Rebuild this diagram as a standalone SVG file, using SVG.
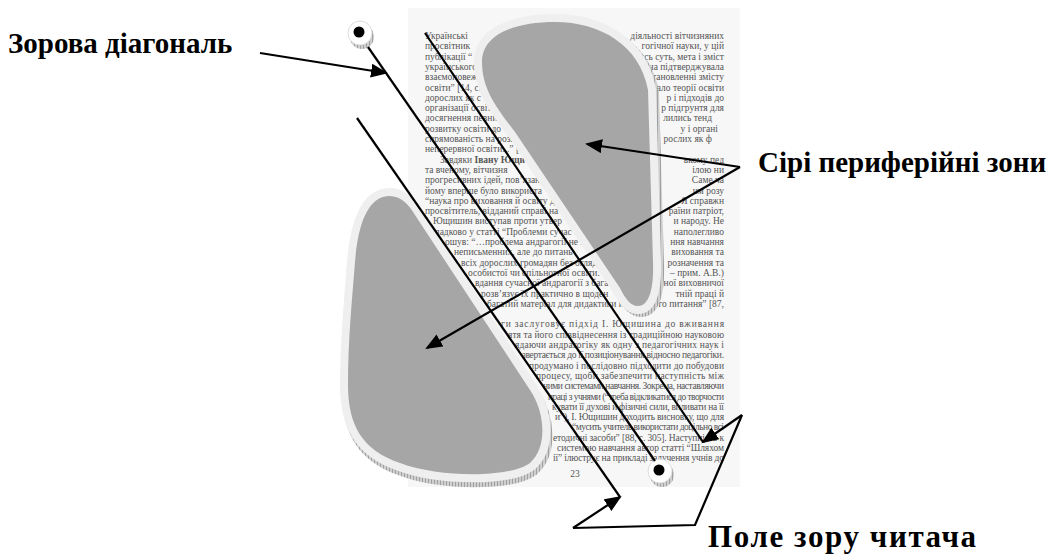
<svg xmlns="http://www.w3.org/2000/svg" width="1054" height="557" viewBox="0 0 1054 557">
<style>
.t{font-family:"Liberation Serif","Times New Roman",serif;font-size:9.5px;fill:#555}
.r{text-anchor:end}
.lbl{font-family:"Liberation Serif","Times New Roman",serif;font-size:29px;font-weight:bold;fill:#000}
.ln{stroke:#000;stroke-width:2.2;fill:none}
.blob{fill:#a6a6a6;stroke:#efefef;stroke-width:16;paint-order:stroke;stroke-linejoin:round}
.shadow{fill:#c9c9c9;stroke:url(#hatch);stroke-width:16;stroke-linejoin:round}
</style>
<defs>
<pattern id="hatch" width="3" height="3" patternUnits="userSpaceOnUse"><rect width="3" height="3" fill="#cfcfcf"/><path d="M0.5,0V3" stroke="#8c8c8c" stroke-width="0.7"/></pattern>
<marker id="ah" markerWidth="18" markerHeight="14" refX="15" refY="7" orient="auto" markerUnits="userSpaceOnUse"><path d="M0,0 L17,7 L0,14 Z" fill="#000"/></marker>
<path id="upper" d="M482,62 C482,34 515,22 555,22 C600,22 640,45 648,90 L653,262 C654,292 648,306 638,306 C630,306 625,298 620,288 L515,132 C495,106 482,88 482,62 Z"/>
<path id="lower" d="M383,197 C398,193 408,203 415,215 L530,390 C545,412 548,447 530,463 C510,478 440,478 400,463 C362,450 348,425 348,385 C348,340 352,300 355,262 C358,225 367,202 383,197 Z"/>
</defs>
<rect width="1054" height="557" fill="#fff"/>
<g id="page">
<rect x="408" y="8" width="332" height="479" fill="#f7f7f7"/>
<g id="page-text">
<text class="t" x="425" y="39">Українські</text><text class="t r" x="724" y="39">діяльності вітчизняних</text>
<text class="t" x="425" y="49.3">просвітник</text><text class="t r" x="724" y="49.3">гогічної науки, у цій</text>
<text class="t" x="425" y="59.6">публікації “</text><text class="t r" x="724" y="59.6">лись суть, мета і зміст</text>
<text class="t" x="425" y="69.9">українського</text><text class="t r" x="724" y="69.9">она підтверджувала</text>
<text class="t" x="425" y="80.2">взаємоповежн</text><text class="t r" x="724" y="80.2">становленні змісту</text>
<text class="t" x="425" y="90.5">освіти” [14, с.</text><text class="t r" x="724" y="90.5">вало теорії освіти</text>
<text class="t" x="425" y="100.8">дорослих як с</text><text class="t r" x="724" y="100.8">р і підходів до</text>
<text class="t" x="425" y="111.1">організації освіти</text><text class="t r" x="724" y="111.1">р підгрунтя для</text>
<text class="t" x="425" y="121.4">досягнення певних</text><text class="t r" x="712" y="121.4">лились тенд</text>
<text class="t" x="425" y="131.7">розвитку освіти до</text><text class="t r" x="718" y="131.7">у і органі</text>
<text class="t" x="425" y="142">спрямованість на розв</text><text class="t r" x="712" y="142">рослих як ф</text>
<text class="t" x="425" y="152.3">неперервної освіти...” [1</text>
<text class="t" x="440" y="162.6">Завдяки <tspan font-weight="bold">Івану Ющи</tspan></text><text class="t r" x="724" y="162.6">ькому пед</text>
<text class="t" x="425" y="172.9">та вченому, вітчизня</text><text class="t r" x="724" y="172.9">ілою ни</text>
<text class="t" x="425" y="183.2">прогресивних ідей, пов’язан</text><text class="t r" x="724" y="183.2">Саме ча</text>
<text class="t" x="425" y="193.5">йому вперше було використа</text><text class="t r" x="724" y="193.5">им розу</text>
<text class="t" x="425" y="203.8">“наука про виховання й освіту д</text><text class="t r" x="724" y="203.8">Я справжн</text>
<text class="t" x="425" y="214.1">просвітитель, відданий справі на</text><text class="t r" x="724" y="214.1">раїни патріот,</text>
<text class="t" x="425" y="224.4">І. Ющишин виступав проти утвер</text><text class="t r" x="724" y="224.4">и народу. Не</text>
<text class="t" x="425" y="234.7">випадково у статті “Проблеми сучас</text><text class="t r" x="724" y="234.7">наполегливо</text>
<text class="t" x="445" y="245">ошув: “…проблема андрагогії не зво</text><text class="t r" x="724" y="245">ння навчання</text>
<text class="t" x="454" y="255.3">неписьменних, але до питань</text><text class="t r" x="724" y="255.3">виховання та</text>
<text class="t" x="461" y="265.6">всіх дорослих громадян без огляду</text><text class="t r" x="724" y="265.6">розначення та</text>
<text class="t" x="468" y="275.9">особистої чи спільнотної освіти. Він (</text><text class="t r" x="724" y="275.9">– прим. А.В.)</text>
<text class="t" x="475" y="286.2">вдання сучасної андрагогії з багатог</text><text class="t r" x="724" y="286.2">ної виховничої</text>
<text class="t" x="481" y="296.5">розв’язує їх практично в щоден</text><text class="t r" x="724" y="296.5">тній праці й</text>
<text class="t" x="487" y="306.8">багатий матеріал для дидактики й метод</text><text class="t r" x="724" y="306.8">го питання” [87,</text>
<text class="t" x="501" y="327.4" textLength="223">ги заслуговує підхід І. Ющишина до вживання</text>
<text class="t" x="508" y="337.7" textLength="216">ятя та його співвіднесення із традиційною науковою</text>
<text class="t" x="515" y="348" textLength="209">ядаючи андрагогіку як одну з педагогічних наук і</text>
<text class="t" x="522" y="358.3" textLength="202">звертається до її позиціонування відносно педагогіки.</text>
<text class="t" x="529" y="368.6" textLength="195">продумано і послідовно підходити до побудови</text>
<text class="t" x="536" y="378.9" textLength="188">процесу, щоби забезпечити наступність між</text>
<text class="t" x="543" y="389.2" textLength="181">ними системами навчання. Зокрема, наставляючи</text>
<text class="t" x="548" y="399.5" textLength="176">праці з учнями (“треба відкликатися до творчости</text>
<text class="t" x="552" y="409.8" textLength="172">кувати її духові й фізичні сили, виливати на її</text>
<text class="t" x="555" y="420.1" textLength="169">и”), І. Ющишин доходить висновку, що для</text>
<text class="t" x="572" y="430.4" textLength="152">“мусить учитель використати доцільно всі</text>
<text class="t" x="553" y="440.7" textLength="171">етодичні засоби” [88, с. 305]. Наступність к</text>
<text class="t" x="557" y="451" textLength="167">системою навчання автор статті “Шляхом</text>
<text class="t" x="553" y="461.3" textLength="171">ії” ілюструє на прикладі залучення учнів до</text>
<text class="t" x="575" y="477" text-anchor="middle">23</text>
</g>
</g>
<g id="zone-upper">
<use href="#upper" class="shadow" transform="translate(3,3)"/>
<use href="#upper" class="blob"/>
</g>
<g id="zone-lower">
<use href="#lower" class="shadow" transform="translate(2,5)"/>
<use href="#lower" class="blob"/>
</g>
<g id="dot-top">
<circle cx="362" cy="37" r="12" fill="url(#hatch)"/>
<circle cx="360" cy="33" r="12" fill="#fff" stroke="#ddd" stroke-width="1"/>
<circle cx="359" cy="32" r="5.5" fill="#000"/>
</g>
<g id="dot-bottom">
<circle cx="662" cy="475" r="12" fill="url(#hatch)"/>
<circle cx="660" cy="471" r="12" fill="#fff" stroke="#ddd" stroke-width="1"/>
<circle cx="659" cy="470" r="5.5" fill="#000"/>
</g>
<g id="connectors">
<path class="ln" d="M368,47 L655,461"/>
<path class="ln" d="M357,118 L620,497"/>
<path class="ln" d="M425,33 L703,442"/>
<path class="ln" d="M260,53 L386,73" marker-end="url(#ah)"/>
<path class="ln" d="M740,167 L587,144" marker-end="url(#ah)"/>
<path class="ln" d="M740,167 L427,348" marker-end="url(#ah)"/>
<path class="ln" d="M742,415 L703,442" marker-end="url(#ah)"/>
<path class="ln" d="M742,415 L695,525 L573,528"/>
<path class="ln" d="M573,528 L620,497" marker-end="url(#ah)"/>
</g>
<g id="label-diagonal"><text class="lbl" x="8" y="53">Зорова діагональ</text></g>
<g id="label-zones"><text class="lbl" x="758" y="172">Сірі периферійні зони</text></g>
<g id="label-field"><text class="lbl" x="708" y="547" style="font-size:31px" textLength="268">Поле зору читача</text></g>
</svg>
